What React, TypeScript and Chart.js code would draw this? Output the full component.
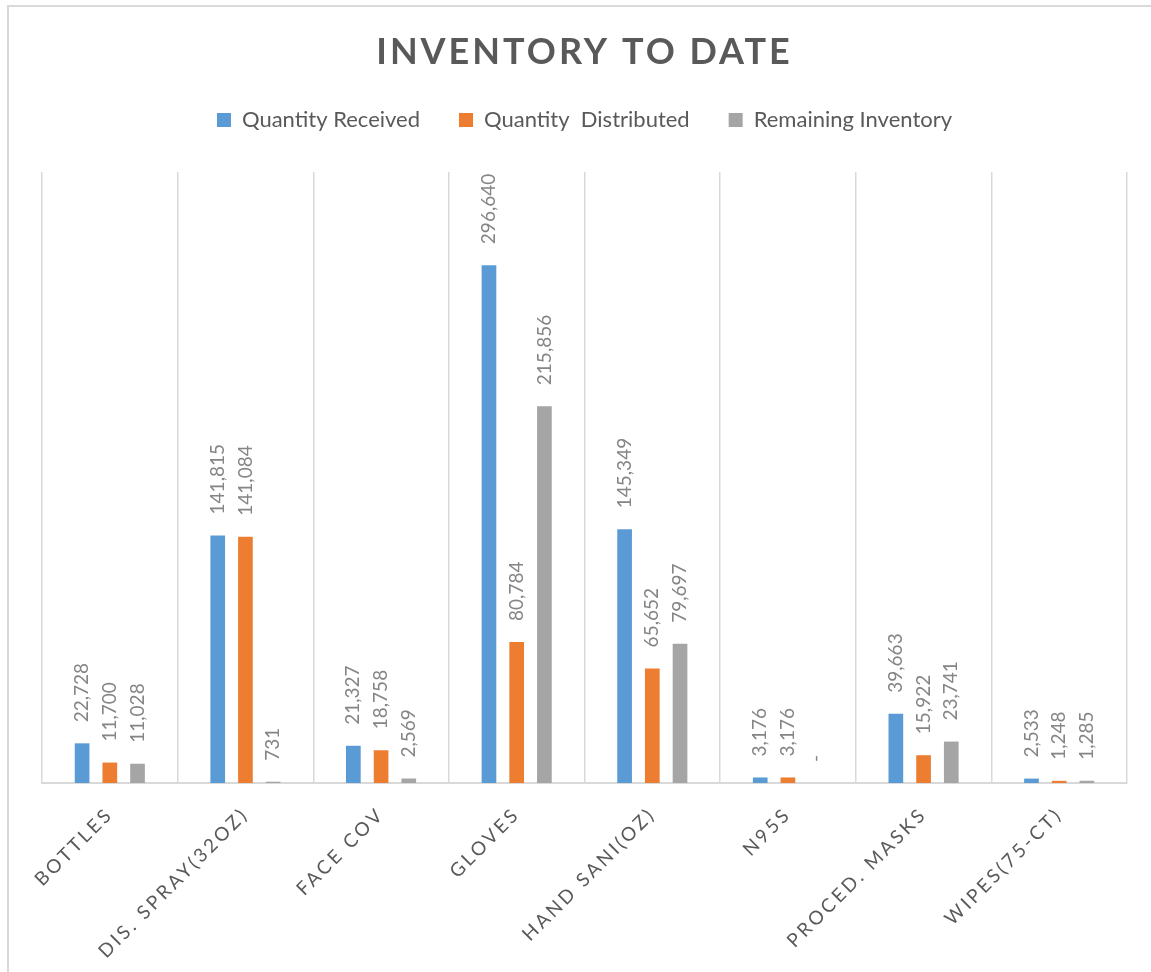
import React, { useEffect, useRef } from 'react';
import { Chart, registerables } from 'chart.js';

Chart.register(...registerables);

const categories = ['BOTTLES', 'DIS. SPRAY(32OZ)', 'FACE COV', 'GLOVES', 'HAND SANI(OZ)', 'N95S', 'PROCED. MASKS', 'WIPES(75-CT)'];
const quantityReceived = [22728, 141815, 21327, 296640, 145349, 3176, 39663, 2533];
const quantityDistributed = [11700, 141084, 18758, 80784, 65652, 3176, 15922, 1248];
const remainingInventory = [11028, 731, 2569, 215856, 79697, 0, 23741, 1285];
const seriesNames = ['Quantity Received', 'Quantity  Distributed', 'Remaining Inventory'];
const seriesColors = ['#5B9BD5', '#ED7D31', '#A5A5A5'];
const chartTitle = 'INVENTORY TO DATE';
const yMin = 0;
const yMax = 350000;

const framePlugin = {
  id: 'frameAndLabels',
  beforeDraw(chart: any) {
    const ctx = chart.ctx;
    ctx.save();
    ctx.fillStyle = '#ffffff';
    ctx.fillRect(0, 0, chart.width, chart.height);
    ctx.strokeStyle = '#d9d9d9';
    ctx.lineWidth = 2;
    ctx.strokeRect(8, 6, chart.width + 50, chart.height + 50);
    ctx.restore();
    ctx.letterSpacing = '0px';
  },
  beforeDatasetsDraw(chart: any) {
    chart.ctx.letterSpacing = '0px';
  },
  afterDatasetsDraw(chart: any) {
    const ctx = chart.ctx;
    ctx.save();
    ctx.letterSpacing = '0px';
    ctx.font = '19px Lato';
    ctx.fillStyle = '#858585';
    ctx.textAlign = 'left';
    ctx.textBaseline = 'middle';
    chart.data.datasets.forEach((ds: any, i: number) => {
      const meta = chart.getDatasetMeta(i);
      meta.data.forEach((bar: any, j: number) => {
        const v = ds.data[j];
        const text = v === 0 ? '-' : v.toLocaleString('en-US');
        ctx.save();
        ctx.translate(bar.x, bar.y - 21);
        ctx.rotate(-Math.PI / 2);
        ctx.fillText(text, 0, 0);
        ctx.restore();
      });
    });
    ctx.restore();
    ctx.letterSpacing = '3px';
  },
  afterDraw(chart: any) {
    chart.ctx.letterSpacing = '0px';
  },
};

export default function App() {
  const canvasRef = useRef<HTMLCanvasElement | null>(null);

  useEffect(() => {
    if (!canvasRef.current) return;
    const seriesData = [quantityReceived, quantityDistributed, remainingInventory];
    const chart = new Chart(canvasRef.current, {
      type: 'bar',
      data: {
        labels: categories,
        datasets: seriesNames.map((name, i) => ({
          label: name,
          data: seriesData[i],
          backgroundColor: seriesColors[i],
          borderWidth: 0,
          categoryPercentage: 0.613,
          barPercentage: 0.53,
        })),
      },
      options: {
        responsive: false,
        animation: false,
        devicePixelRatio: 1,
        layout: { padding: { left: 42, right: 24, top: 0, bottom: 0 } },
        plugins: {
          title: {
            display: true,
            text: chartTitle,
            font: { family: 'Lato', size: 36, weight: 'bold', lineHeight: 1 },
            padding: { top: 34, bottom: 0 },
            color: (c: any) => {
              c.chart.ctx.letterSpacing = '3px';
              return '#595959';
            },
          },
          legend: {
            display: true,
            position: 'top',
            labels: {
              font: { family: 'Lato', size: 22 },
              color: '#595959',
              boxWidth: 14,
              boxHeight: 14,
              padding: 39,
            },
          },
          tooltip: { enabled: false },
        },
        scales: {
          x: {
            grid: { color: '#d9d9d9', lineWidth: 1.5, offset: true, drawTicks: false },
            border: { color: '#d9d9d9', width: 2 },
            ticks: {
              font: { family: 'Lato', size: 19 },
              color: '#595959',
              minRotation: 45,
              maxRotation: 45,
              autoSkip: false,
              padding: 20,
              z: 1,
            },
            afterFit: (s: any) => { s.height = 189; },
          },
          xSpacer: {
            type: 'category',
            position: 'top',
            grid: { display: false },
            border: { display: false },
            ticks: { display: false },
            afterFit: (s: any) => { s.height = 31; },
          },
          y: { display: false, min: yMin, max: yMax },
        },
      } as any,
      plugins: [framePlugin],
    });
    return () => chart.destroy();
  }, []);

  return (
    <div style={{ position: 'absolute', left: 0, top: 0, width: 1151, height: 972 }}>
      <canvas ref={canvasRef} width={1151} height={972} style={{ display: 'block' }} />
    </div>
  );
}
